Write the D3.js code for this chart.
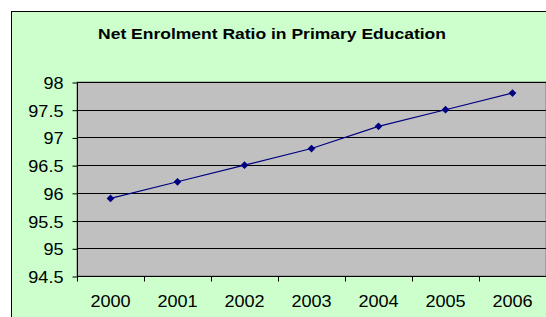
<!DOCTYPE html>
<html>
<head>
<meta charset="utf-8">
<script src="https://cdn.jsdelivr.net/npm/d3@7"></script>
<style>
body { margin: 0; background: #fff; }
svg { display: block; }
text { font-family: "Liberation Sans", Arial, sans-serif; fill: #000; }
</style>
</head>
<body>
<div id="chart"></div>
<script>
const years = ['2000', '2001', '2002', '2003', '2004', '2005', '2006'];
const ratio = [95.9, 96.2, 96.5, 96.8, 97.2, 97.5, 97.8];
const yTicks = [94.5, 95, 95.5, 96, 96.5, 97, 97.5, 98];
const title = 'Net Enrolment Ratio in Primary Education';

const width = 546, height = 317;
const plot = {left: 77, top: 82, right: 546, bottom: 276};
const sx = 1.13; // text in the reference is a bit stretched sideways

const svg = d3.select('#chart').append('svg')
  .attr('width', width).attr('height', height);

// chart area
svg.append('rect')
  .attr('x', 11.5).attr('y', 11.5)
  .attr('width', width).attr('height', height)
  .style('fill', '#ccffcc').style('stroke', '#000');

const x = d3.scaleBand().domain(years).range([plot.left, plot.right]);
const y = d3.scaleLinear().domain([94.5, 98]).range([plot.bottom, plot.top]);

svg.append('rect')
  .attr('x', plot.left).attr('y', plot.top)
  .attr('width', plot.right - plot.left).attr('height', plot.bottom - plot.top)
  .style('fill', '#c0c0c0').style('stroke', '#808080');

// gridlines
svg.append('g').selectAll('line').data(yTicks.slice(1)).enter()
  .append('line')
  .attr('x1', plot.left).attr('x2', plot.right)
  .attr('y1', d => Math.round(y(d)) + 0.5).attr('y2', d => Math.round(y(d)) + 0.5)
  .style('stroke', '#000');

// y axis
const yAxis = svg.append('g')
  .attr('transform', `translate(${plot.left + 0.5},0.5)`)
  .call(d3.axisLeft(y).tickValues(yTicks).tickFormat(d3.format('')).tickSize(5).tickPadding(0));
yAxis.select('.domain').attr('d', `M0,${plot.top}V${plot.bottom}`).style('stroke', '#000');
yAxis.selectAll('.tick line').style('stroke', '#000');
yAxis.selectAll('.tick text').remove();
yAxis.selectAll('.tick').append('text')
  .attr('transform', `translate(-14,6) scale(${sx},1)`)
  .attr('text-anchor', 'end')
  .style('font-size', '16px')
  .text(d => d);

// x axis
const xAxis = svg.append('g')
  .attr('transform', `translate(0,${plot.bottom + 0.5})`);
xAxis.append('line')
  .attr('x1', plot.left).attr('x2', plot.right)
  .style('stroke', '#000');
xAxis.selectAll('line.tk').data(years).enter()
  .append('line').attr('class', 'tk')
  .attr('x1', d => Math.round(x(d)) + 0.5).attr('x2', d => Math.round(x(d)) + 0.5)
  .attr('y1', 0).attr('y2', 5)
  .style('stroke', '#000');
xAxis.selectAll('text').data(years).enter()
  .append('text')
  .attr('transform', d => `translate(${x(d) + x.bandwidth() / 2},30) scale(${sx},1)`)
  .attr('text-anchor', 'middle')
  .style('font-size', '16px')
  .text(d => d);

// series
const cx = d => x(d) + x.bandwidth() / 2;
svg.append('path')
  .datum(years)
  .attr('d', d3.line().x(cx).y((d, i) => y(ratio[i])))
  .style('fill', 'none').style('stroke', '#000080').style('stroke-width', 1.2);

svg.append('g').selectAll('path').data(years).enter()
  .append('path')
  .attr('d', d3.symbol(d3.symbolSquare, 30))
  .attr('transform', (d, i) => `translate(${cx(d)},${y(ratio[i])}) rotate(45)`)
  .style('fill', '#000080');

svg.append('text')
  .attr('transform', `translate(272,39) scale(${sx},1)`)
  .attr('text-anchor', 'middle')
  .style('font-size', '15.5px').style('font-weight', 'bold')
  .text(title);
</script>
</body>
</html>
